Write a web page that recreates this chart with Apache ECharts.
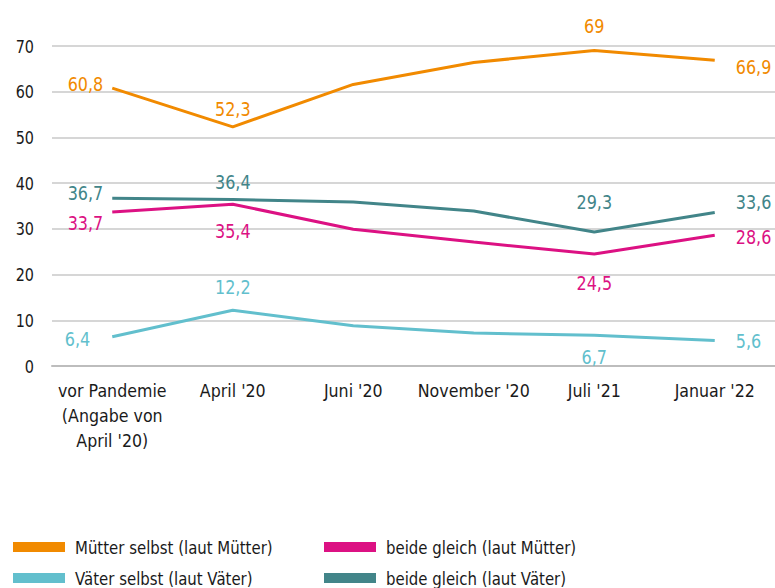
<!DOCTYPE html>
<html>
<head>
<meta charset="utf-8">
<script src="https://cdn.jsdelivr.net/npm/echarts@6/dist/echarts.min.js"></script>
<style>
	html, body { margin: 0; padding: 0; background: #fff; }
	#main { width: 775px; height: 588px; }
</style>
</head>
<body>
<div id="main"></div>
<script>
// 数据
const categories = ['vor Pandemie\n(Angabe von\nApril \'20)', 'April \'20', 'Juni \'20', 'November \'20', 'Juli \'21', 'Januar \'22'];
const muetterSelbst = [60.8, 52.3, 61.6, 66.4, 69, 66.9];
const beideMuetter = [33.7, 35.4, 29.9, 27.1, 24.5, 28.6];
const vaeterSelbst = [6.4, 12.2, 8.8, 7.2, 6.7, 5.6];
const beideVaeter = [36.7, 36.4, 35.9, 33.9, 29.3, 33.6];

const FONT = '"DejaVu Sans", sans-serif';

// 标签位置 [position, distance, offsetY]
const labelsMS = [['left', 9, -4], ['top', 8, 0], null, null, ['top', 15, 0], ['right', 21, 7]];
const labelsBM = [['left', 9, 11], ['bottom', 17, 0], null, null, ['bottom', 19, 0], ['right', 21, 2]];
const labelsVS = [['left', 22, 2], ['top', 13, 0], null, null, ['bottom', 12, 0], ['right', 21, 1]];
const labelsBV = [['left', 9, -5], ['top', 8, 0], null, null, ['top', 20, 0], ['right', 21, -10]];

function fmt(v) {
	return String(v).replace('.', ',');
}

function buildData(values, specs, color) {
	return values.map((v, i) => {
		const s = specs[i];
		if (!s) return { value: v, label: { show: false } };
		return {
			value: v,
			label: {
				show: true,
				position: s[0],
				distance: s[1],
				offset: [0, s[2]],
				color: color,
				fontFamily: FONT,
				fontSize: 20,
				formatter: p => fmt(p.value)
			}
		};
	});
}

function makeSeries(name, values, specs, color) {
	return {
		name: name,
		type: 'line',
		data: buildData(values, specs, color),
		showSymbol: true,
		symbol: 'circle',
		symbolSize: 0.01,
		lineStyle: { color: color, width: 3 },
		itemStyle: { color: color },
		emphasis: { disabled: true },
		animation: false
	};
}

const cOrange = '#F18A00';
const cPink = '#DC1183';
const cCyan = '#62BFCD';
const cTeal = '#428589';

const chart = echarts.init(document.getElementById('main'), null, { renderer: 'svg' });

const legendBase = {
	orient: 'vertical',
	padding: 0,
	itemWidth: 52,
	itemHeight: 10,
	itemGap: 11,
	height: 80,
	icon: 'rect',
	textStyle: { fontFamily: FONT, fontSize: 18, lineHeight: 20, color: '#1a1a1a', padding: [0, 0, 0, 5] },
	selectedMode: false
};

chart.setOption({
	backgroundColor: '#fff',
	grid: { left: 52, right: -1, top: 46, bottom: 222 },
	legend: [
		Object.assign({}, legendBase, { left: 13, top: 537, data: ['Mütter selbst (laut Mütter)', 'Väter selbst (laut Väter)'] }),
		Object.assign({}, legendBase, { left: 324, top: 537, data: ['beide gleich (laut Mütter)', 'beide gleich (laut Väter)'] })
	],
	xAxis: {
		type: 'category',
		data: categories,
		boundaryGap: true,
		axisLine: { show: true, lineStyle: { color: '#bdbdbd', width: 2 } },
		axisTick: { show: false },
		axisLabel: {
			color: '#1a1a1a',
			fontFamily: FONT,
			fontSize: 18,
			lineHeight: 25,
			margin: 12,
			interval: 0,
			align: 'center'
		}
	},
	yAxis: {
		type: 'value',
		min: 0,
		max: 70,
		interval: 10,
		axisLine: { show: false },
		axisTick: { show: false },
		axisLabel: { color: '#1a1a1a', fontFamily: FONT, fontSize: 18, margin: 18 },
		splitLine: { lineStyle: { color: '#c8c8c8', width: 1.5 } }
	},
	series: [
		makeSeries('Mütter selbst (laut Mütter)', muetterSelbst, labelsMS, cOrange),
		makeSeries('beide gleich (laut Mütter)', beideMuetter, labelsBM, cPink),
		makeSeries('Väter selbst (laut Väter)', vaeterSelbst, labelsVS, cCyan),
		makeSeries('beide gleich (laut Väter)', beideVaeter, labelsBV, cTeal)
	]
});

// 原图用的是窄体字，这里把文字横向压缩
function squeezeText() {
	document.querySelectorAll('#main svg text').forEach(t => {
		if (t.getAttribute('lengthAdjust')) return;
		const len = t.getComputedTextLength();
		if (!len) return;
		let f = 0.8;
		if (/[A-Za-zäöüÄÖÜ]/.test(t.textContent)) {
			f = t.getBoundingClientRect().top > 500 ? 0.83 : 0.88;
		}
		t.setAttribute('textLength', (len * f).toFixed(1));
		t.setAttribute('lengthAdjust', 'spacingAndGlyphs');
	});
}
squeezeText();
chart.on('finished', squeezeText);
setTimeout(squeezeText, 50);
</script>
</body>
</html>
